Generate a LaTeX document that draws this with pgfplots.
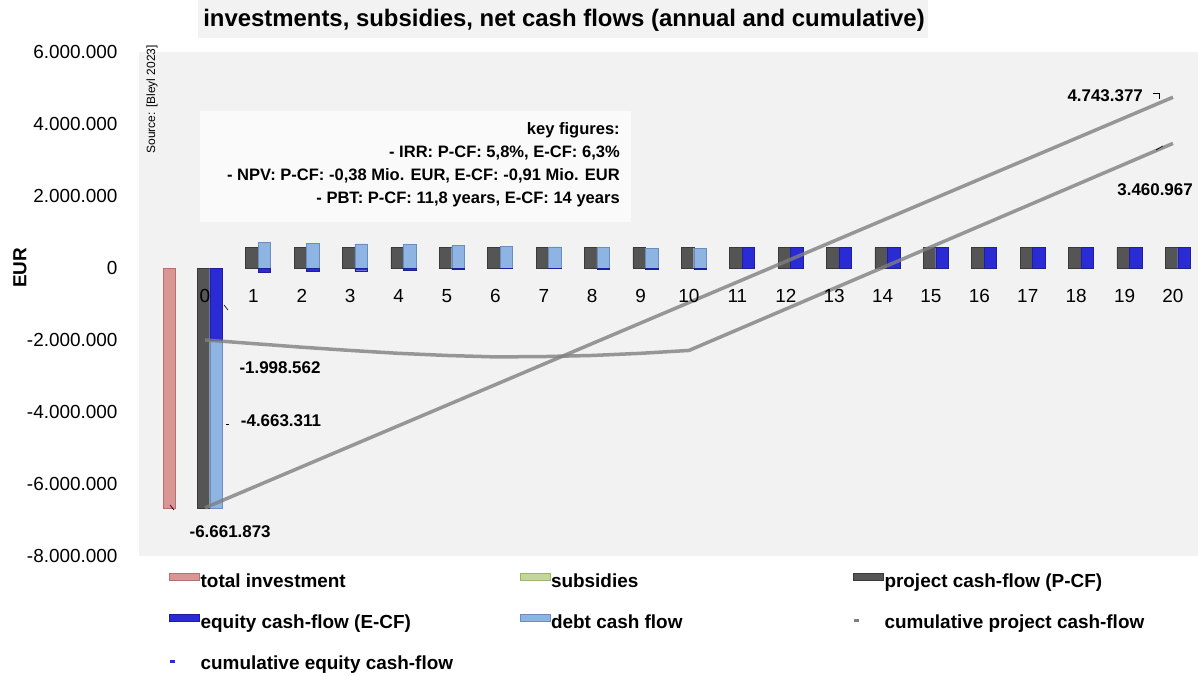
\documentclass[border=0pt]{standalone}
\usepackage{fontspec}
\setmainfont{Liberation Sans}
\usepackage{pgfplots}
\pgfplotsset{compat=1.18}
\usepackage{pgfplotstable}

\definecolor{bg}{HTML}{F2F2F2}
\definecolor{boxc}{HTML}{FAFAFA}
\definecolor{pinkf}{HTML}{D99694}
\definecolor{pinkd}{HTML}{B57170}
\definecolor{darkf}{HTML}{555555}
\definecolor{darkd}{HTML}{3A3A3A}
\definecolor{bluef}{HTML}{2B2BD6}
\definecolor{blued}{HTML}{1F1F99}
\definecolor{lbluef}{HTML}{8DB4E2}
\definecolor{lblued}{HTML}{6A8DBE}
\definecolor{greenf}{HTML}{C3D69B}
\definecolor{greend}{HTML}{9BB56A}
\definecolor{linec}{HTML}{7F7F7F}

\pgfplotstableread{
year total
0 -6661873
}\tinv

\pgfplotstableread{
year pcf
0 -6661873
1 570263
2 570263
3 570263
4 570263
5 570263
6 570263
7 570263
8 570263
9 570263
10 570263
11 570263
12 570263
13 570263
14 570263
15 570263
16 570263
17 570263
18 570263
19 570263
20 570263
}\pcf

\pgfplotstableread{
year equity debt
0 -1998562 -4663311
1 -110000 710000
2 -90000 690000
3 -75000 670000
4 -60000 650000
5 -45000 630000
6 -10000 610000
7 -10000 590000
8 -30000 580000
9 -30000 550000
10 -30000 550000
11 570263 0
12 570263 0
13 570263 0
14 570263 0
15 570263 0
16 570263 0
17 570263 0
18 570263 0
19 570263 0
20 570263 0
}\ecf

\pgfplotstableread{
year cump cume
0 -6661873 -1998562
1 -6091610 -2100000
2 -5521348 -2200000
3 -4951085 -2290000
4 -4380823 -2370000
5 -3810560 -2430000
6 -3240298 -2470000
7 -2670035 -2460000
8 -2099773 -2430000
9 -1529510 -2370000
10 -959248 -2290000
11 -388985 -1715000
12 181277 -1140000
13 751540 -565000
14 1321802 10000
15 1892065 585000
16 2462327 1160000
17 3032590 1735000
18 3602852 2310000
19 4173115 2885000
20 4743377 3460967
}\cum

\pgfplotsset{
  barleg/.style={legend image code/.code={\draw[##1] (0bp,2bp) rectangle (30bp,9bp);}},
  lineleg/.style={legend image code/.code={\path[draw=none,fill=none] (0bp,2bp) rectangle (30bp,9bp); \draw[##1, line width=2.5bp] (1bp,3bp) -- (6bp,3bp);}},
}

\begin{document}
\begin{tikzpicture}
\useasboundingbox (0,0) rectangle (1198bp,676bp);
% title
\fill[bg] (198bp,638bp) rectangle (928bp,676bp);
\node[font=\fontsize{24}{28}\selectfont\bfseries] at (564bp,656bp) {investments, subsidies, net cash flows (annual and cumulative)};
% y label
\node[rotate=90, font=\fontsize{19}{22}\selectfont\bfseries] at (20bp,408bp) {EUR};
\begin{axis}[
  at={(139bp,120bp)}, anchor=south west,
  scale only axis, width=1059bp, height=504bp,
  xmin=-1.3636, xmax=20.517,
  ymin=-8000000, ymax=6000000,
  clip=false,
  axis on top,
  axis background/.style={fill=bg},
  axis line style={draw=none},
  major tick length=0pt,
  xtick={0,1,...,20},
  xticklabels={0,1,2,3,4,5,6,7,8,9,10,11,12,13,14,15,16,17,18,19,20},
  ytick={-8000000,-6000000,-4000000,-2000000,0,2000000,4000000,6000000},
  yticklabels={-8.000.000,-6.000.000,-4.000.000,-2.000.000,0,2.000.000,4.000.000,6.000.000},
  tick label style={font=\fontsize{19}{22}\selectfont},
  xticklabel style={yshift=270bp},
  yticklabel style={xshift=-18bp},
  scaled y ticks=false,
  legend columns=3,
  legend cell align=left,
  legend style={at={(axis description cs:0.02833,-0.0333)}, anchor=north west,
    draw=none, fill=none, inner sep=0pt, row sep=23bp, column sep=0pt,
    nodes={inner xsep=1bp, inner ysep=0pt, text height=14bp, text depth=4bp,
      font=\fontsize{19}{22}\selectfont\bfseries}},
]
% key figures box
\fill[boxc] (axis cs:-0.103,4361000) rectangle (axis cs:8.80,1278000);
\node[anchor=east, align=right, inner sep=0pt, font=\fontsize{16.6}{23}\selectfont\bfseries]
  at (axis cs:8.574,2875000) {key figures:\\- IRR: P-CF: 5,8\%, E-CF: 6,3\%\\- NPV: P-CF: -0,38 Mio. EUR, E-CF: -0,91 Mio. EUR\\- PBT: P-CF: 11,8 years, E-CF: 14 years};

% bars
\addplot[ybar, bar width=12.5bp, bar shift=-36bp, fill=pinkf, draw=pinkd, forget plot]
  table[x=year, y=total] {\tinv};
\addplot[ybar, bar width=12.5bp, bar shift=-1.5bp, fill=darkf, draw=darkd, forget plot]
  table[x=year, y=pcf] {\pcf};
\addplot[ybar, bar width=12.5bp, bar shift=11bp, fill=lbluef, draw=lblued, forget plot,
  restrict x to domain=0:10]
  table[x=year, y expr={\thisrow{debt}+\thisrow{equity}*(\thisrow{debt}<0)}] {\ecf};
\addplot[ybar, bar width=12.5bp, bar shift=11bp, fill=bluef, draw=blued, forget plot]
  table[x=year, y=equity] {\ecf};

% cumulative lines
\addplot[linec, line width=3.5bp, opacity=0.8, forget plot] table[x=year, y=cump] {\cum};
\addplot[linec, line width=3.5bp, opacity=0.8, forget plot] table[x=year, y=cume] {\cum};

% data labels
\node[font=\fontsize{17}{20}\selectfont\bfseries] at (axis cs:1.55,-2780000) {-1.998.562};
\node[font=\fontsize{17}{20}\selectfont\bfseries] at (axis cs:1.57,-4250000) {-4.663.311};
\node[font=\fontsize{17}{20}\selectfont\bfseries] at (axis cs:0.52,-7330000) {-6.661.873};
\node[font=\fontsize{17}{20}\selectfont\bfseries] at (axis cs:18.6,4780000) {4.743.377};
\node[font=\fontsize{17}{20}\selectfont\bfseries] at (axis cs:19.63,2170000) {3.460.967};
% leader marks
\draw[black, line width=0.6bp] (axis cs:19.587,4861000) -- (axis cs:19.711,4861000) -- (axis cs:19.711,4694000);
\draw[black, line width=0.6bp] (axis cs:19.649,3278000) -- (axis cs:19.793,3389000);
\draw[black, line width=0.6bp] (axis cs:0.393,-1028000) -- (axis cs:0.475,-1167000);
\draw[black, line width=0.6bp] (axis cs:0.434,-4333000) -- (axis cs:0.496,-4333000);
\draw[black, line width=0.6bp] (axis cs:-0.723,-6583000) -- (axis cs:-0.640,-6722000);

% legend
\addlegendimage{barleg, fill=pinkf, draw=pinkd}
\addlegendentry{\makebox[318bp][l]{total investment}}
\addlegendimage{barleg, fill=greenf, draw=greend}
\addlegendentry{\makebox[301bp][l]{subsidies}}
\addlegendimage{barleg, fill=darkf, draw=darkd}
\addlegendentry{project cash-flow (P-CF)}
\addlegendimage{barleg, fill=bluef, draw=blued}
\addlegendentry{\makebox[318bp][l]{equity cash-flow (E-CF)}}
\addlegendimage{barleg, fill=lbluef, draw=lblued}
\addlegendentry{\makebox[301bp][l]{debt cash flow}}
\addlegendimage{lineleg, draw=linec}
\addlegendentry{cumulative project cash-flow}
\addlegendimage{lineleg, draw=bluef}
\addlegendentry{\makebox[318bp][l]{cumulative equity cash-flow}}
\end{axis}
% source
\node[rotate=90, anchor=east, inner sep=0pt, font=\fontsize{12}{14}\selectfont] at (152bp,631bp) {Source: [Bleyl 2023]};
\end{tikzpicture}
\end{document}
